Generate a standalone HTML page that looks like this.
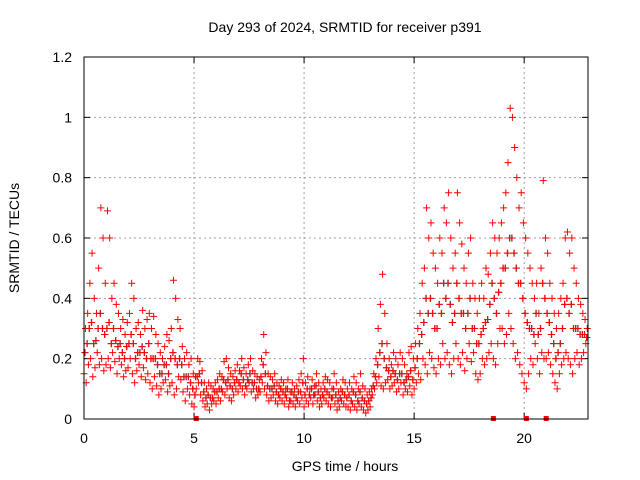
<!DOCTYPE html>
<html><head><meta charset="utf-8"><style>
body{margin:0;background:#fff}
svg{display:block;font-family:"Liberation Sans",sans-serif}
</style></head><body>
<svg id="chart" width="640" height="480">
<rect width="640" height="480" fill="#fff"/>
<text x="345" y="32" font-size="14" text-anchor="middle">Day 293 of 2024, SRMTID for receiver p391</text>
<text x="345" y="471" font-size="14" text-anchor="middle">GPS time / hours</text>
<text transform="translate(19,238) rotate(-90)" font-size="14" text-anchor="middle">SRMTID / TECUs</text>
<g id="grid"></g><g id="ticks"></g><g id="marks"></g>
<rect x="84" y="57" width="504" height="362" fill="none" stroke="#000" stroke-width="1"/>
</svg>
<script>
const xTicks=[0,5,10,15,20];
const yTicks=[0,0.2,0.4,0.6,0.8,1,1.2];
const yTickLabels=["0","0.2","0.4","0.6","0.8","1","1.2"];
const startHour=0, stepHour=0.1;
const lowVals=[.15,.12,.18,.2,.14,.17,.22,.18,.2,.16,.18,.2,.17,.22,.19,.15,.2,.18,.14,.16,.17,.2,.15,.12,.16,.18,.14,.17,.13,.15,.12,.1,.14,.11,.08,.1,.12,.13,.09,.11,.12,.08,.1,.14,.13,.09,.06,.1,.08,.05,.04,.1,.12,.08,.06,.04,.05,.03,.05,.06,.05,.07,.06,.09,.08,.1,.07,.06,.08,.1,.09,.11,.1,.08,.1,.12,.09,.1,.07,.08,.09,.12,.1,.08,.06,.07,.08,.06,.05,.07,.06,.05,.07,.04,.06,.05,.04,.06,.05,.07,.04,.06,.05,.07,.05,.08,.06,.04,.05,.07,.06,.05,.04,.07,.05,.03,.04,.06,.05,.04,.04,.03,.05,.04,.03,.05,.04,.03,.02,.03,.04,.08,.1,.12,.14,.11,.1,.12,.13,.1,.11,.12,.09,.1,.12,.08,.1,.09,.11,.08,.1,.12,.15,.13,.2,.18,.15,.22,.2,.17,.15,.2,.18,.25,.2,.22,.18,.15,.2,.25,.2,.18,.22,.16,.2,.25,.19,.22,.15,.13,.15,.2,.18,.2,.22,.25,.2,.18,.25,.3,.3,.25,.28,.35,.3,.25,.2,.22,.18,.15,.12,.1,.15,.2,.18,.25,.2,.15,.22,.2,.2,.22,.18,.15,.12,.1,.15,.18,.2,.22,.2,.18,.15,.2,.22,.18,.2,.22,.25];
const midVals=[.22,.25,.3,.32,.25,.26,.3,.35,.3,.28,.3,.32,.25,.3,.26,.24,.25,.22,.2,.24,.25,.28,.25,.2,.22,.22,.24,.22,.2,.25,.2,.2,.2,.18,.15,.15,.18,.18,.15,.2,.22,.2,.18,.2,.18,.14,.14,.14,.12,.1,.08,.14,.15,.12,.09,.07,.08,.07,.07,.09,.09,.1,.1,.13,.12,.13,.11,.1,.12,.13,.12,.15,.13,.11,.13,.15,.12,.12,.1,.1,.14,.18,.15,.11,.1,.1,.11,.09,.08,.1,.09,.08,.1,.06,.09,.08,.07,.09,.09,.12,.08,.1,.08,.1,.08,.11,.09,.07,.08,.1,.09,.08,.07,.1,.08,.06,.07,.09,.08,.07,.08,.06,.09,.08,.06,.09,.07,.06,.05,.06,.07,.11,.14,.18,.22,.25,.2,.17,.16,.14,.16,.15,.13,.15,.15,.12,.13,.14,.16,.13,.17,.2,.25,.28,.32,.4,.35,.4,.35,.3,.3,.38,.35,.45,.4,.45,.38,.32,.35,.45,.4,.35,.35,.3,.35,.4,.3,.3,.25,.25,.28,.3,.32,.33,.38,.45,.4,.35,.42,.45,.5,.5,.55,.6,.6,.55,.5,.45,.45,.4,.35,.32,.3,.3,.28,.35,.28,.3,.45,.4,.35,.32,.28,.25,.2,.22,.25,.3,.38,.4,.35,.38,.3,.3,.3,.28,.28,.28,.27];
const highVals=[.3,.35,.45,.55,.4,.35,.5,.7,.6,.45,.69,.6,.4,.45,.38,.35,.3,.33,.28,.32,.35,.45,.4,.3,.32,.28,.36,.3,.33,.35,.3,.34,.28,.25,.22,.2,.24,.28,.26,.3,.46,.4,.33,.3,.24,.2,.22,.18,.2,.15,.14,.2,.19,.16,.12,.1,.12,.11,.1,.12,.13,.15,.14,.19,.2,.17,.15,.14,.16,.18,.16,.2,.17,.15,.18,.2,.16,.15,.14,.13,.2,.28,.22,.15,.14,.13,.15,.12,.11,.13,.12,.1,.13,.09,.12,.1,.11,.13,.15,.2,.12,.14,.1,.13,.11,.15,.12,.1,.12,.14,.13,.12,.1,.15,.12,.09,.1,.13,.12,.1,.12,.1,.14,.12,.1,.15,.11,.1,.08,.09,.1,.15,.2,.3,.38,.48,.35,.25,.2,.18,.22,.2,.18,.22,.2,.18,.15,.22,.24,.2,.25,.3,.35,.45,.5,.7,.6,.65,.55,.5,.45,.6,.55,.7,.65,.75,.6,.5,.55,.75,.65,.58,.5,.45,.55,.6,.45,.4,.35,.4,.45,.4,.5,.48,.55,.65,.6,.55,.6,.65,.7,.75,.85,1.03,1.0,.9,.8,.7,.75,.65,.6,.55,.5,.45,.4,.45,.35,.5,.79,.6,.55,.45,.4,.35,.3,.35,.4,.45,.6,.62,.55,.6,.5,.45,.4,.38,.35,.33,.3];
const zeroHours=[5.1,18.6,20.1,21.0];
const ns="http://www.w3.org/2000/svg";
const X=h=>84+h*(504/22.9), Y=v=>419-v*(362/1.2);
const grid=document.getElementById('grid'),ticks=document.getElementById('ticks'),marks=document.getElementById('marks');
function mk(tag,attrs,parent){const e=document.createElementNS(ns,tag);for(const k in attrs)e.setAttribute(k,attrs[k]);parent.appendChild(e);return e;}
xTicks.forEach(t=>{const x=X(t);
 if(t>0){const g=mk('line',{x1:x,x2:x,y1:57,y2:419,stroke:'#a0a0a0','stroke-dasharray':'2,3'},grid);
 
 }
 mk('line',{x1:x,x2:x,y1:419,y2:413,stroke:'#000'},ticks);mk('line',{x1:x,x2:x,y1:57,y2:63,stroke:'#000'},ticks);
 const l=mk('text',{x:x,y:443,'font-size':14,'text-anchor':'middle'},ticks);l.textContent=t;
 
 });
yTicks.forEach((t,i)=>{const y=Y(t);
 if(t>0&&t<1.2){const g=mk('line',{x1:84,x2:588,y1:y,y2:y,stroke:'#a0a0a0','stroke-dasharray':'2,3'},grid);
 
 }
 mk('line',{x1:84,x2:90,y1:y,y2:y,stroke:'#000'},ticks);mk('line',{x1:582,x2:588,y1:y,y2:y,stroke:'#000'},ticks);
 const l=mk('text',{x:72,y:y+5,'font-size':14,'text-anchor':'end'},ticks);l.textContent=yTickLabels[i];
 
 });
function plus(arr,dx,color,name){let d='';arr.forEach((v,i)=>{const x=X(startHour+i*stepHour+dx),y=Y(v);d+=`M${x-3.5},${y}h7M${x},${y-3.5}v7`;});
 const p=mk('path',{d:d,stroke:color,'stroke-width':1,fill:'none'},marks);
 
 }
plus(midVals,0.05,'#555','series-gray-points');
plus(lowVals,0,'#f00','series-low-points');
plus(midVals,0.033,'#f00','series-mid-points');
plus(highVals,0.066,'#f00','series-high-points');
zeroHours.forEach(h=>{const r=mk('rect',{x:X(h)-2.5,y:416,width:5,height:5,fill:'#f00'},marks);
 
 });
</script>
</body></html>
